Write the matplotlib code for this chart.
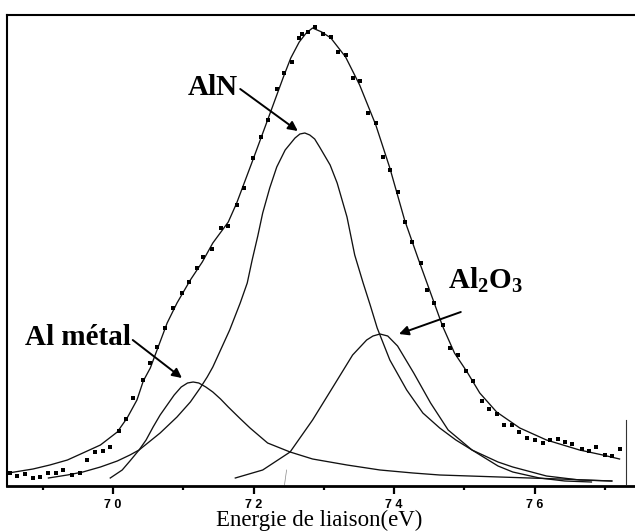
import matplotlib
matplotlib.use("Agg")
import matplotlib.pyplot as plt

plt.rcParams['mathtext.default'] = 'regular'

# ---------------- data (binding energy eV, intensity a.u.) ----------------
dots_E = [68.53, 68.63, 68.75, 68.86, 68.96, 69.08, 69.19, 69.29, 69.42, 69.53,
          69.63, 69.74, 69.86, 69.96, 70.09, 70.18, 70.28, 70.43, 70.53, 70.63,
          70.74, 70.85, 70.98, 71.08, 71.19, 71.28,
          71.41, 71.54, 71.64, 71.76, 71.86, 71.99, 72.11, 72.20, 72.33, 72.43,
          72.55, 72.65, 72.69, 72.77, 72.87, 72.99, 73.10, 73.20, 73.31, 73.41,
          73.51, 73.63, 73.74, 73.84, 73.94, 74.05, 74.15, 74.25,
          74.38, 74.47, 74.57, 74.69, 74.79, 74.91, 75.02, 75.12, 75.25, 75.35,
          75.46, 75.56, 75.68, 75.78, 75.89, 76.00, 76.12, 76.22, 76.33, 76.43,
          76.54, 76.67, 76.77, 76.88, 77.00, 77.10, 77.21]
dots_I = [13, 10, 12, 8, 9, 13, 13, 16, 11, 13, 26, 34, 35, 39, 55, 67, 88, 106,
          123, 139, 158, 178, 193, 204, 218, 229,
          237, 258, 260, 281, 298, 328, 349, 366, 397, 413, 424, 448, 452, 454,
          459, 452, 449, 434, 431, 408, 405, 373, 363, 329, 316, 294, 264, 244,
          223, 196, 183, 161, 138, 131, 115, 105, 85, 77, 72, 61, 61, 54, 48, 46,
          43, 46, 47, 44, 42, 37, 35, 39, 31, 30, 37]

env_E = [68.51, 68.86, 69.10, 69.35, 69.57, 69.82, 70.06, 70.20, 70.34, 70.43,
         70.53, 70.77, 70.91, 71.10, 71.27, 71.42, 71.64, 71.76, 71.99, 72.20,
         72.43, 72.53, 72.65, 72.75, 72.84, 72.97, 73.10, 73.31, 73.51, 73.74,
         73.94, 74.15, 74.34, 74.51, 74.69, 74.86, 75.04, 75.22, 75.46, 75.79,
         76.17, 76.64, 76.97, 77.21]
env_I = [13, 17, 21, 26, 33, 41, 54, 68, 86, 105,
         118, 163, 183, 206, 224, 243, 264, 283, 326, 366,
         410, 428, 444, 453, 458, 454, 448, 429, 401, 361,
         318, 266, 228, 195, 160, 133, 114, 93, 74, 58,
         46, 36, 31, 27]

almet_E = [69.08, 69.35, 69.57, 69.82, 70.06, 70.24, 70.37, 70.47, 70.57, 70.67,
           70.77, 70.87, 70.97, 71.06, 71.14, 71.22, 71.32, 71.42, 71.53, 71.64,
           71.80, 71.95, 72.20, 72.52, 72.84, 73.33, 73.80, 74.27, 74.65, 75.50,
           76.36, 77.10]
almet_I = [8, 11, 14, 19, 25, 31, 36, 46, 59, 71,
           81, 91, 99, 103, 104, 103, 99, 94, 87, 79,
           68, 58, 43, 34, 27, 21, 16, 13, 11, 9,
           7, 5]

aln_E = [69.96, 70.13, 70.24, 70.37, 70.67, 70.91, 71.10, 71.24, 71.34, 71.42,
         71.66, 71.81, 71.91, 71.98, 72.06, 72.13, 72.23, 72.33, 72.45, 72.59,
         72.66, 72.73, 72.80, 72.87, 72.94, 73.09, 73.19, 73.33, 73.44, 73.56,
         73.66, 73.76, 73.94, 74.18, 74.41, 74.65, 74.88, 75.11, 75.48, 75.69,
         76.17, 76.64, 77.10]
aln_I = [8, 16, 25, 36, 53, 69, 84, 98, 109, 119,
         156, 183, 203, 226, 250, 273, 298, 319, 336, 348,
         352, 353, 351, 347, 339, 321, 303, 269, 231, 203,
         181, 158, 126, 96, 73, 58, 46, 36, 24, 19,
         10, 6, 5]

al2o3_E = [71.74, 72.13, 72.52, 72.84, 73.13, 73.41, 73.61, 73.70, 73.80, 73.91,
           74.05, 74.28, 74.52, 74.77, 75.11, 75.48, 75.69, 76.07, 76.43, 76.81]
al2o3_I = [8, 16, 34, 66, 99, 131, 146, 150, 152, 150,
           140, 113, 83, 56, 36, 20, 14, 8, 5, 4]

artifact_E = [77.30, 77.30]
artifact_I = [2, 66]
artifact2_E = [72.47, 72.44]
artifact2_I = [16, 1]

major_ticks = [70, 72, 74, 76]
tick_labels = ["7 0", "7 2", "7 4", "7 6"]
minor_ticks = [69, 71, 73, 75, 77]

# ---------------- figure ----------------
fig = plt.figure(figsize=(6.35, 5.32), dpi=100)
ax = fig.add_axes([7 / 635, 46 / 532, 628 / 635, 471 / 532])

lc = '#111111'
for xs, ys in [(env_E, env_I), (almet_E, almet_I), (aln_E, aln_I),
               (al2o3_E, al2o3_I)]:
    ax.plot(xs, ys, color=lc, lw=0.95, solid_joinstyle='round')
ax.plot(dots_E, dots_I, linestyle='none', marker='s', markersize=2.6,
        markeredgewidth=0, color='#000000')
ax.plot(artifact_E, artifact_I, color='#333333', lw=0.8)
ax.plot(artifact2_E, artifact2_I, color='#888888', lw=0.5)

ax.set_xlim(68.49, 77.43)
ax.set_ylim(0, 471)

ax.set_xticks(major_ticks)
ax.set_xticklabels(tick_labels)
ax.set_xticks(minor_ticks, minor=True)
ax.set_yticks([])
ax.tick_params(axis='x', which='major', direction='out', length=6, width=1.6,
               pad=3, labelsize=9)
ax.tick_params(axis='x', which='minor', direction='out', length=3, width=1.6)
for lab in ax.get_xticklabels():
    lab.set_fontfamily('Liberation Sans')
    lab.set_fontweight('bold')

ax.spines['right'].set_visible(False)
ax.spines['bottom'].set_linewidth(2.0)
ax.spines['left'].set_linewidth(1.5)
ax.spines['top'].set_linewidth(1.5)

lab_font = dict(family='Liberation Serif', weight='bold', size=21)
ax.text(71.07, 391, 'AlN', ha='left', va='baseline', **lab_font)
ax.text(68.75, 141, 'Al métal', ha='left', va='baseline', **lab_font)
ax.text(74.77, 197, 'Al$_2$O$_3$', ha='left', va='baseline', **lab_font)

arrow = dict(arrowstyle='-|>', color='black', lw=1.4, mutation_scale=14,
             shrinkA=0, shrinkB=0)
ax.annotate('', xy=(72.63, 355), xytext=(71.81, 397), arrowprops=arrow)
ax.annotate('', xy=(70.98, 108), xytext=(70.28, 146), arrowprops=arrow)
ax.annotate('', xy=(74.07, 152), xytext=(74.95, 174), arrowprops=arrow)

fig.text(319 / 635, (532 - 520) / 532, 'Energie de liaison(eV)',
         ha='center', va='center', family='Liberation Serif', size=16.5)

fig.savefig('out.png', dpi=100)
